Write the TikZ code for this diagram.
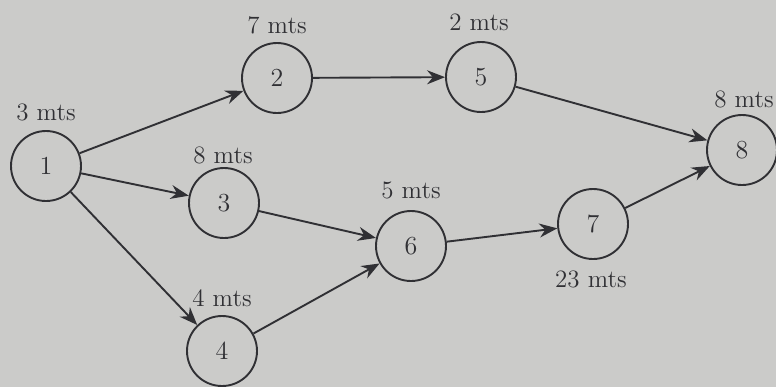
\documentclass[tikz,border=0pt]{standalone}
\usetikzlibrary{arrows.meta}
\definecolor{bg}{RGB}{203,203,201}
\definecolor{ink}{RGB}{48,48,52}
\begin{document}
\begin{tikzpicture}[x=0.5pt,y=-0.5pt,
  ev/.style={circle,draw=ink,line width=0.95pt,minimum size=35pt,inner sep=0pt,font=\fontsize{13}{15}\selectfont,text=ink},
  lbl/.style={font=\fontsize{12.5}{14}\selectfont,text=ink,inner sep=0pt},
  arr/.style={draw=ink,line width=0.95pt,-{Stealth[length=9pt,width=7pt]}}]
\fill[bg] (0,0) rectangle (776,387);
\useasboundingbox (0,0) rectangle (776,387);
\node[ev] (n1) at (46,166) {1};
\node[ev] (n2) at (277,78) {2};
\node[ev] (n5) at (481,77) {5};
\node[ev] (n3) at (224,203) {3};
\node[ev] (n6) at (411,246) {6};
\node[ev] (n7) at (593,224) {7};
\node[ev] (n8) at (742,150) {8};
\node[ev] (n4) at (222,351) {4};
\node[lbl] (l1) at (46,112) {3 mts};
\node[lbl] (l2) at (277,25) {7 mts};
\node[lbl] (l5) at (479,22) {2 mts};
\node[lbl] (l3) at (223,155) {8 mts};
\node[lbl] (l6) at (411,190) {5 mts};
\node[lbl] (l7) at (591,279) {23 mts};
\node[lbl] (l4) at (222,298) {4 mts};
\node[lbl] (l8) at (744,99) {8 mts};
\draw[arr] (n1) -- (n2);
\draw[arr] (n1) -- (n3);
\draw[arr] (n1) -- (n4);
\draw[arr] (n2) -- (n5);
\draw[arr] (n5) -- (n8);
\draw[arr] (n3) -- (n6);
\draw[arr] (n4) -- (n6);
\draw[arr] (n6) -- (n7);
\draw[arr] (n7) -- (n8);
\end{tikzpicture}
\end{document}
